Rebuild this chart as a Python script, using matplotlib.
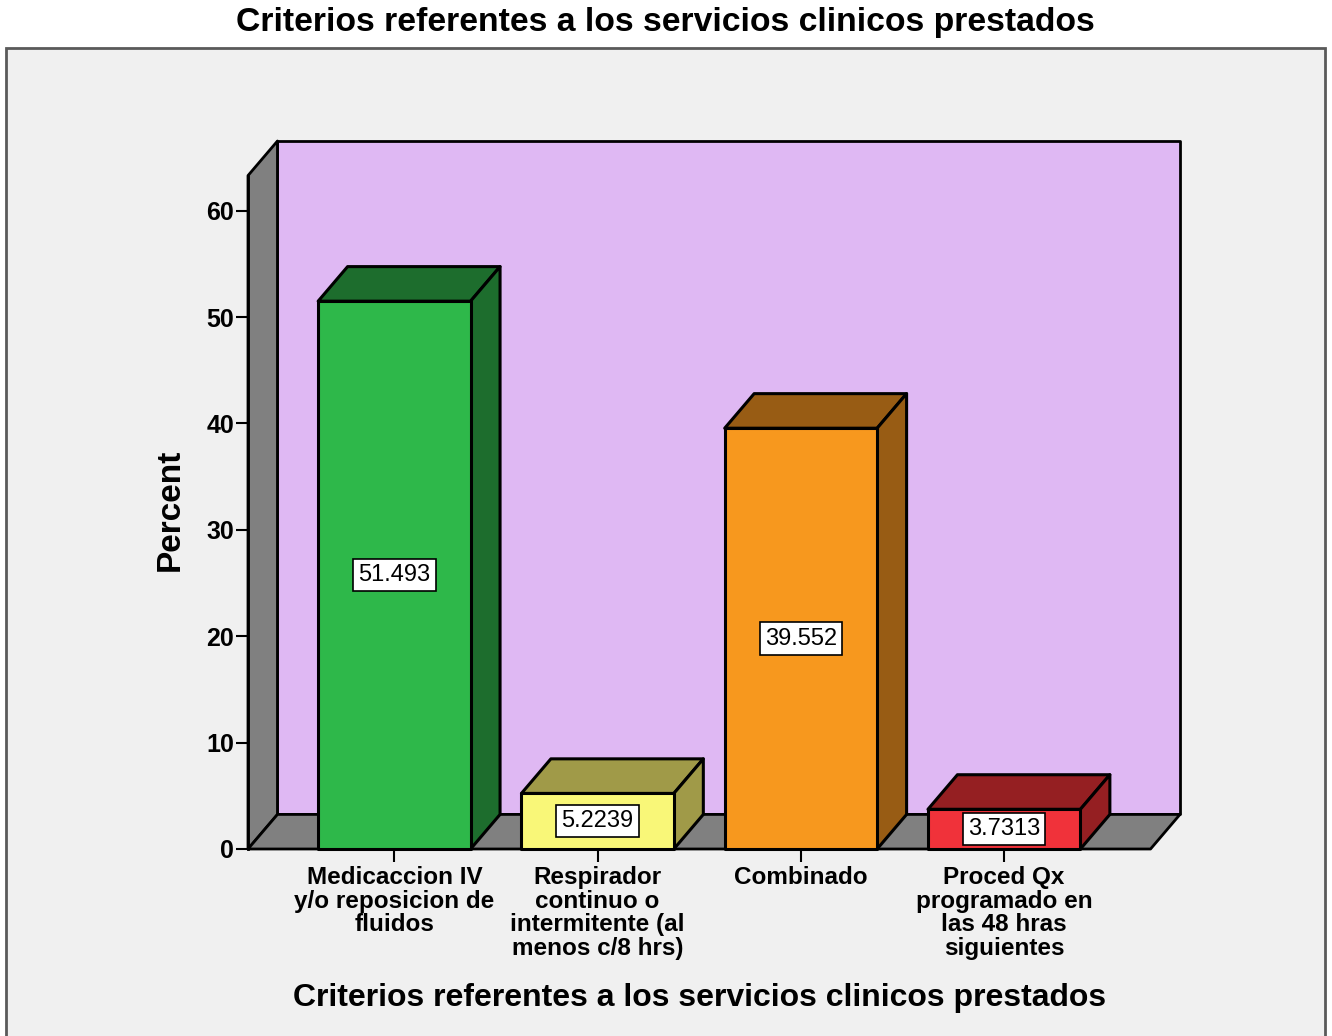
import matplotlib
matplotlib.use('Agg')
import matplotlib.pyplot as plt
from matplotlib.patches import Polygon, Rectangle

plt.rcParams['font.family'] = ['Liberation Sans', 'DejaVu Sans']

categories = ['Medicaccion IV\ny/o reposicion de\nfluidos',
              'Respirador\ncontinuo o\nintermitente (al\nmenos c/8 hrs)',
              'Combinado',
              'Proced Qx\nprogramado en\nlas 48 hras\nsiguientes']
percent = [51.493, 5.2239, 39.552, 3.7313]
value_labels = ['51.493', '5.2239', '39.552', '3.7313']
front_colors = ['#2eb84a', '#f9f778', '#f7981e', '#f0323a']
dark_colors = ['#1d6d2d', '#a09a48', '#985c14', '#951f22']
title = 'Criterios referentes a los servicios clinicos prestados'
yticks = [0, 10, 20, 30, 40, 50, 60]

W, H = 1332, 1036
fig = plt.figure(figsize=(W / 100, H / 100), dpi=100)
fig.patch.set_facecolor('white')

# outer chart frame
fig.patches.append(Rectangle((6 / W, -0.02), (1325 - 6) / W, 0.02 + 1 - 48 / H,
                             transform=fig.transFigure, facecolor='#f0f0f0',
                             edgecolor='#5a5a5a', linewidth=2, zorder=-10))

ax = fig.add_axes([248 / W, 1 - 849 / H, (1180 - 248) / W, (849 - 141) / H])
ax.set_facecolor('none')

x0, x1 = -0.72, 3.72
dx, dy = 0.145, 3.25
wall_top = 63.3
ax.set_xlim(x0, x1 + dx)
ax.set_ylim(0, wall_top + dy)


def box(pts, fc, lw, z):
    ax.add_patch(Polygon(pts, closed=True, facecolor=fc, edgecolor='black', lw=lw,
                         joinstyle='round', zorder=z, clip_on=False))


lw = 2.0
# back wall, side wall, floor
box([(x0 + dx, dy), (x1 + dx, dy), (x1 + dx, wall_top + dy), (x0 + dx, wall_top + dy)], '#dfb8f3', lw, 1)
box([(x0, 0), (x0, wall_top), (x0 + dx, wall_top + dy), (x0 + dx, dy)], '#808080', lw, 2)
box([(x0, 0), (x1, 0), (x1 + dx, dy), (x0 + dx, dy)], '#808080', lw, 2)

bw = 0.75
for i, v in enumerate(percent):
    l, r = i - bw / 2, i + bw / 2
    box([(l, v), (r, v), (r + dx, v + dy), (l + dx, v + dy)], dark_colors[i], 2.2, 3)
    box([(r, 0), (r, v), (r + dx, v + dy), (r + dx, dy)], dark_colors[i], 2.2, 3)
    box([(l, 0), (r, 0), (r, v), (l, v)], front_colors[i], 2.2, 4)
    ax.text(i, v / 2, value_labels[i], ha='center', va='center', fontsize=17, zorder=5,
            bbox=dict(boxstyle='square,pad=0.22', facecolor='white', edgecolor='black', lw=1.2))

for s in ['top', 'right', 'bottom']:
    ax.spines[s].set_visible(False)
ax.spines['left'].set_bounds(0, wall_top)
ax.spines['left'].set_linewidth(lw)
ax.spines['left'].set_zorder(6)

ax.set_yticks(yticks)
ax.set_yticklabels([str(t) for t in yticks], fontsize=18, fontweight='bold')
ax.tick_params(axis='y', direction='out', length=9, width=1.5, pad=1)
ax.set_xticks(range(len(categories)))
ax.set_xticklabels(categories, fontsize=17.5, fontweight='bold', linespacing=1.05)
ax.tick_params(axis='x', direction='out', length=9, width=1.5, pad=3)

ax.set_ylabel('Percent', fontsize=24, fontweight='bold')
ax.yaxis.set_label_coords((186 - 248) / 932, (849 - 510) / 708)
ax.set_xlabel(title, fontsize=23, fontweight='bold')
ax.xaxis.set_label_coords((700 - 248) / 932, (849 - 983) / 708)

fig.text(665 / W, 1 - 23 / H, title, ha='center', va='center', fontsize=24.3, fontweight='bold')

fig.savefig('out.png', dpi=100)
